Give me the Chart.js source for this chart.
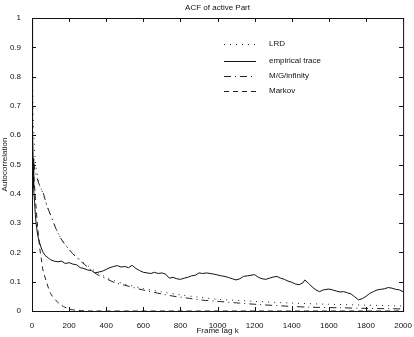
<!DOCTYPE html>
<html>
<head>
<meta charset="utf-8">
<script src="https://cdn.jsdelivr.net/npm/chart.js@4/dist/chart.umd.min.js"></script>
<style>
  html, body { margin: 0; padding: 0; background: #fff; }
  #wrap { width: 414px; height: 337px; }
</style>
</head>
<body>
<div id="wrap"><canvas id="acf" width="414" height="337"></canvas></div>
<script>
// valores
const titulo = 'ACF of active Part';
const xTicks = [0, 200, 400, 600, 800, 1000, 1200, 1400, 1600, 1800, 2000];
const yTicks = [0, 0.1, 0.2, 0.3, 0.4, 0.5, 0.6, 0.7, 0.8, 0.9, 1];

const traceLag = [0, 2, 4, 6, 8, 10, 14, 18, 22, 28, 34, 40, 50, 60, 70, 80, 90, 100, 120, 140, 160, 180, 200,
  220, 240, 260, 280, 300, 320, 340, 360, 380, 400, 420, 440, 460, 480, 500, 520, 540, 560, 580, 600,
  620, 640, 660, 680, 700, 720, 740, 760, 780, 800, 820, 840, 860, 880, 900, 920, 940, 960, 980, 1000,
  1020, 1040, 1060, 1080, 1100, 1120, 1140, 1160, 1180, 1200, 1220, 1240, 1260, 1280, 1300, 1320, 1340,
  1360, 1380, 1400, 1420, 1440, 1460, 1470, 1490, 1510, 1530, 1550, 1570, 1600, 1620, 1640, 1660, 1680,
  1700, 1720, 1740, 1760, 1780, 1800, 1820, 1840, 1860, 1880, 1900, 1920, 1940, 1960, 1980, 2000];
const traceAcf = [1.0, 0.8, 0.62, 0.52, 0.46, 0.42, 0.37, 0.33, 0.3, 0.27, 0.25, 0.235, 0.215, 0.2, 0.19, 0.185, 0.18, 0.175, 0.17, 0.168, 0.17, 0.162, 0.165,
  0.16, 0.158, 0.148, 0.145, 0.14, 0.138, 0.13, 0.133, 0.136, 0.142, 0.148, 0.152, 0.155, 0.15, 0.152, 0.148, 0.156, 0.145, 0.138, 0.132,
  0.13, 0.128, 0.132, 0.128, 0.13, 0.126, 0.112, 0.115, 0.11, 0.108, 0.112, 0.115, 0.12, 0.122, 0.13, 0.128, 0.13, 0.128, 0.126, 0.123,
  0.12, 0.118, 0.114, 0.11, 0.106, 0.11, 0.118, 0.12, 0.122, 0.124, 0.115, 0.11, 0.108, 0.112, 0.116, 0.118, 0.112,
  0.108, 0.102, 0.098, 0.092, 0.09, 0.096, 0.106, 0.095, 0.082, 0.072, 0.066, 0.072, 0.075, 0.072, 0.068, 0.065, 0.066,
  0.062, 0.058, 0.048, 0.038, 0.042, 0.05, 0.06, 0.066, 0.072, 0.074, 0.076, 0.08, 0.078, 0.074, 0.072, 0.066];

const lrdLag = [0, 2, 5, 10, 20, 40, 60, 80, 107, 130, 161, 200, 231, 300, 350, 400, 446, 500, 600, 700, 800, 900, 1000, 1200, 1400, 1600, 1800, 2000];
const lrdAcf = [1.0, 0.85, 0.7, 0.6, 0.5, 0.43, 0.4, 0.36, 0.317, 0.28, 0.242, 0.21, 0.19, 0.155, 0.132, 0.115, 0.103, 0.092, 0.077, 0.065, 0.055, 0.047, 0.04, 0.033, 0.027, 0.023, 0.02, 0.017];

const mgLag = [0, 10, 20, 40, 59, 80, 107, 130, 161, 200, 231, 300, 350, 400, 446, 500, 597, 700, 758, 850, 919, 1000, 1118, 1200, 1387, 1500, 1656, 1800, 2000];
const mgAcf = [0.56, 0.5, 0.47, 0.43, 0.406, 0.36, 0.317, 0.28, 0.242, 0.21, 0.188, 0.15, 0.125, 0.11, 0.097, 0.088, 0.072, 0.058, 0.051, 0.043, 0.037, 0.033, 0.027, 0.023, 0.016, 0.013, 0.011, 0.009, 0.007];

const markovLag = [0, 10, 20, 30, 43, 50, 59, 80, 100, 113, 130, 150, 170, 188, 210, 250, 300, 2000];
const markovAcf = [0.55, 0.46, 0.37, 0.29, 0.208, 0.18, 0.14, 0.095, 0.06, 0.048, 0.035, 0.024, 0.015, 0.01, 0.005, 0.002, 0, 0];

function pares(lags, vals) {
  return lags.map((x, i) => ({ x: x, y: vals[i] }));
}

const fonte = { family: '"Liberation Sans", Arial, sans-serif', size: 8 };

// moldura, ticks para dentro, titulo e legenda no estilo matlab
const moldura = {
  id: 'moldura',
  afterDraw(chart) {
    const ctx = chart.ctx;
    const a = chart.chartArea;
    const sx = chart.scales.x, sy = chart.scales.y;
    ctx.save();
    ctx.strokeStyle = '#111';
    ctx.lineWidth = 1;
    ctx.strokeRect(a.left + 0.5, a.top + 0.5, a.right - a.left, a.bottom - a.top);
    ctx.beginPath();
    xTicks.forEach(v => {
      const p = Math.round(sx.getPixelForValue(v)) + 0.5;
      ctx.moveTo(p, a.bottom); ctx.lineTo(p, a.bottom - 4);
      ctx.moveTo(p, a.top); ctx.lineTo(p, a.top + 4);
    });
    yTicks.forEach(v => {
      const p = Math.round(sy.getPixelForValue(v)) + 0.5;
      ctx.moveTo(a.left, p); ctx.lineTo(a.left + 4, p);
      ctx.moveTo(a.right, p); ctx.lineTo(a.right - 4, p);
    });
    ctx.stroke();

    ctx.fillStyle = '#111';
    ctx.font = '8px "Liberation Sans", Arial, sans-serif';
    ctx.textAlign = 'center';
    ctx.textBaseline = 'middle';
    ctx.fillText(titulo, (a.left + a.right) / 2, 8);

    // legenda
    const lx0 = 224, lx1 = 256, tx = 269;
    const ly = [44, 61, 76, 91];
    ctx.textAlign = 'left';
    chart.data.datasets.forEach((ds, i) => {
      ctx.beginPath();
      ctx.setLineDash(ds.borderDash || []);
      ctx.lineWidth = ds.borderWidth;
      ctx.strokeStyle = ds.borderColor;
      ctx.moveTo(lx0, ly[i] + 0.5);
      ctx.lineTo(lx1, ly[i] + 0.5);
      ctx.stroke();
      ctx.fillText(ds.label, tx, ly[i]);
    });
    ctx.restore();
  }
};

const ctx = document.getElementById('acf').getContext('2d');
new Chart(ctx, {
  type: 'line',
  data: {
    datasets: [
      { label: 'LRD', data: pares(lrdLag, lrdAcf), borderColor: '#222', borderWidth: 1, borderDash: [1, 5], pointRadius: 0, fill: false, tension: 0.3 },
      { label: 'empirical trace', data: pares(traceLag, traceAcf), borderColor: '#111', borderWidth: 1, pointRadius: 0, fill: false, tension: 0 },
      { label: 'M/G/infinity', data: pares(mgLag, mgAcf), borderColor: '#222', borderWidth: 1, borderDash: [7, 4, 1, 4], pointRadius: 0, fill: false, tension: 0.3 },
      { label: 'Markov', data: pares(markovLag, markovAcf), borderColor: '#222', borderWidth: 1, borderDash: [5, 4], pointRadius: 0, fill: false, tension: 0.3 }
    ]
  },
  options: {
    responsive: false,
    animation: false,
    layout: { padding: { left: 0, right: 10, top: 18, bottom: 0 }, autoPadding: false },
    plugins: { legend: { display: false }, tooltip: { enabled: false } },
    scales: {
      x: {
        type: 'linear', min: 0, max: 2000,
        afterFit: s => { s.height = 26; },
        afterBuildTicks: s => { s.ticks = xTicks.map(v => ({ value: v })); },
        grid: { display: false }, border: { display: false },
        ticks: { color: '#111', font: fonte, padding: 2, maxRotation: 0, autoSkip: false, callback: v => String(v) },
        title: { display: true, text: 'Frame lag k', color: '#111', font: fonte, padding: { top: 0, bottom: 1 } }
      },
      y: {
        type: 'linear', min: 0, max: 1,
        afterFit: s => { s.width = 32; },
        afterBuildTicks: s => { s.ticks = yTicks.map(v => ({ value: v })); },
        grid: { display: false }, border: { display: false },
        ticks: { color: '#111', font: fonte, padding: 3, autoSkip: false, callback: v => String(v) },
        title: { display: true, text: 'Autocorrelation', color: '#111', font: fonte, padding: { top: 0, bottom: 0 } }
      }
    }
  },
  plugins: [moldura]
});
</script>
</body>
</html>
